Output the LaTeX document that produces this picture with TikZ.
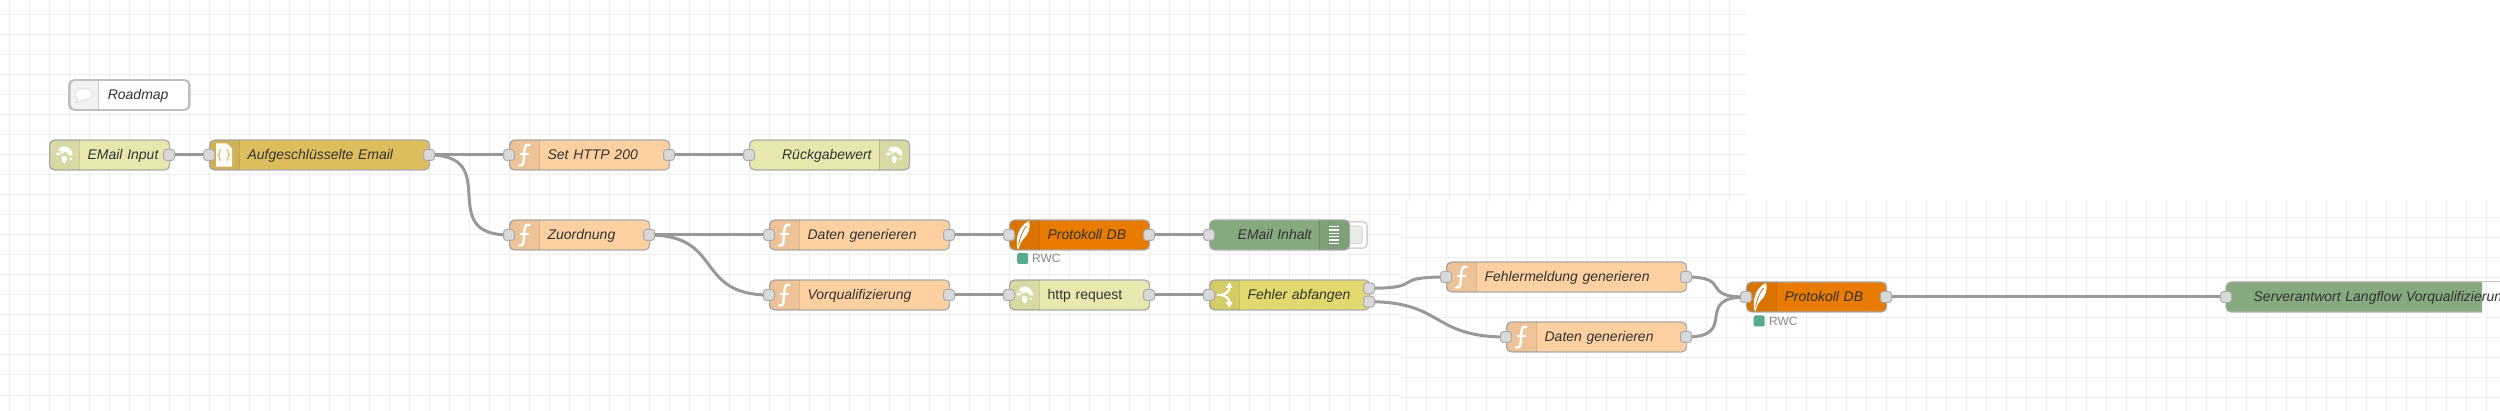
\documentclass[tikz,border=0pt]{standalone}
\usepackage{fontspec}
\setmainfont{Liberation Sans}
\usetikzlibrary{calc}
\definecolor{gridc}{HTML}{EEEEEE}
\definecolor{wirec}{HTML}{999999}
\definecolor{edgec}{HTML}{ABABAB}
\definecolor{portc}{HTML}{D9D9D9}
\definecolor{textc}{HTML}{333333}
\definecolor{fnc}{HTML}{FDD0A2}
\definecolor{httpc}{HTML}{E7E7AE}
\definecolor{tplc}{HTML}{DEBD5C}
\definecolor{dbc}{HTML}{E97B00}
\definecolor{dbgc}{HTML}{87A980}
\definecolor{swc}{HTML}{E2D96E}
\definecolor{statc}{HTML}{55AB8B}
\definecolor{rwcc}{HTML}{888888}
\pgfdeclarelayer{gridlayer}
\pgfdeclarelayer{wires}
\pgfsetlayers{gridlayer,wires,main}
\tikzset{
  nrbox/.style={rectangle,rounded corners=5pt,draw=edgec,line width=1.2pt,anchor=west,
    minimum height=30pt,inner xsep=0pt,inner ysep=0pt,text=textc,
    font=\fontsize{14}{16}\selectfont\itshape,text height=10pt,text depth=0pt},
  nrport/.style={rectangle,rounded corners=3pt,draw=edgec,fill=portc,line width=1pt,
    minimum size=11pt,inner sep=0pt},
  wire/.style={draw=wirec,line width=3pt},
  gridline/.style={draw=gridc,line width=1pt},
  iconw/.style={draw=white,line width=2.4pt,line cap=round},
  stattext/.style={text=rwcc,font=\fontsize{12}{14}\selectfont,anchor=west,inner sep=0pt},
  statbox/.style={rectangle,rounded corners=2pt,fill=statc,minimum size=11pt,inner sep=0pt,anchor=west},
}
% tinted icon band, clipped to the rounded box
\newcommand{\iconband}[5]{% x0 yc width bandx0 bandw
  \begin{scope}
    \clip[rounded corners=5pt] (#1,#2-15) rectangle (#1+#3,#2+15);
    \fill[black,opacity=.06] (#4,#2-15) rectangle (#4+#5,#2+15);
    \draw[black,opacity=.13,line width=1pt] (#4,#2-15) -- (#4,#2+15) (#4+#5,#2-15) -- (#4+#5,#2+15);
  \end{scope}}
\newcommand{\leftnode}[6]{% name x yc w colour text
  \node[nrbox,fill=#5,minimum width=#4pt,text width=#4pt,align=left] (#1) at (#2,#3) {\hspace*{38pt}#6};
  \iconband{#2}{#3}{#4}{#2-8}{38}}
\newcommand{\rightnode}[6]{%
  \node[nrbox,fill=#5,minimum width=#4pt,text width=#4pt,align=right] (#1) at (#2,#3) {#6\hspace*{38pt}};
  \iconband{#2}{#3}{#4}{#2+#4-30}{38}}
\newcommand{\portnode}[3]{\node[nrport] (#1) at (#2,#3) {};}
\newcommand{\wirelink}[2]{%
  \begin{pgfonlayer}{wires}
  \draw[wire] let \p1=(#1.center),\p2=(#2.center),
    \n1={min(75,.75*veclen(\x2-\x1,\y2-\y1))} in
    (#1.center) .. controls +(\n1,0) and +(-\n1,0) .. (#2.center);
  \end{pgfonlayer}}
\newcommand{\icfn}[2]{\begin{scope}[shift={(#1,#2)}]
  \draw[iconw] (5.5,-10) .. controls (1.5,-11.5) and (0.6,-8) .. (0.2,-3) -- (-0.3,5)
     .. controls (-0.6,10.5) and (-3,11.5) .. (-5,10.5);
  \draw[white,line width=1.6pt] (-4,-1) -- (5,-1);
\end{scope}}
\newcommand{\icglobe}[2]{\begin{scope}[shift={(#1,#2)}]
  \begin{scope}
  \clip (0,0) circle (8.5);
  \fill[white] (-3,-9) -- (7,-9) -- (10,-3) -- (9,0.5) -- (5.5,0.5) -- (3.5,-2) -- (0.5,-3.5) -- (-0.5,-1.5) -- (-3,-2) -- (-3.5,-4.5) -- (-6,-4) -- cycle;
  \fill[white] (-8.5,-2) -- (-4.5,-2.5) -- (-3,0) -- (-7,0.5) -- cycle;
  \fill[white] (-2.5,1.5) -- (2,1.5) -- (3,4.5) -- (0.5,9) -- (-2,6.5) -- cycle;
  \fill[white] (5.5,3) -- (9,2.5) -- (6.5,6.5) -- cycle;
  \fill[white] (-9.5,3) -- (-7.2,3) -- (-8,5.5) -- cycle;
  \end{scope}
\end{scope}}
\newcommand{\icfeather}[2]{\begin{scope}[shift={(#1,#2)}]
  \fill[white] (-6.6,13.6) .. controls (-8.8,4) and (-6,-9) .. (5,-14)
     .. controls (7,-6) and (4,0) .. (-1.5,5) .. controls (-3.5,7.5) and (-4.6,10) .. (-5.2,13.8) -- cycle;
  \draw[dbc!85!black,line width=.7pt] (-5.4,10) .. controls (-4,2) and (-1,-5) .. (2.5,-9);
\end{scope}}
\newcommand{\icswitch}[2]{\begin{scope}[shift={(#1,#2)}]
  \draw[white,line width=2.2pt] (-7.5,0) -- (-2,0);
  \draw[white,line width=2.2pt] (-2.5,0) .. controls (1,-1) and (5.5,-3) .. (5.5,-8);
  \draw[white,line width=2.2pt] (-2.5,0) .. controls (1,1) and (5.5,3) .. (5.5,8);
  \fill[white] (5.5,-12.5) -- (1.5,-7) -- (8.5,-7) -- cycle;
  \fill[white] (5.5,12.5) -- (1.5,7) -- (8.5,7) -- cycle;
\end{scope}}
\begin{document}
\begin{tikzpicture}[x=1pt,y=-1pt]
\useasboundingbox (0,0) rectangle (2500,411);
% canvas grids
\begin{pgfonlayer}{gridlayer}
\begin{scope}
  \clip (0,0) -- (1747,0) -- (1747,201) -- (1400,201) -- (1400,411) -- (0,411) -- cycle;
  \foreach \gx in {0,...,87} \draw[gridline] ({9.5+20*\gx},0) -- ({9.5+20*\gx},411);
  \foreach \gy in {0,...,19} \draw[gridline] (0,{15+20*\gy}) -- (1747,{15+20*\gy});
\end{scope}
\begin{scope}
  \clip (1400,201) rectangle (2500,411);
  \foreach \gx in {0,...,54} \draw[gridline] ({1406.3+20*\gx},201) -- ({1406.3+20*\gx},411);
  \foreach \gy in {0,...,9} \draw[gridline] (1400,{217.3+20*\gy}) -- (2500,{217.3+20*\gy});
\end{scope}
\end{pgfonlayer}

% comment
\node[nrbox,draw=black!25,line width=1.6pt,fill=white,minimum width=120pt,text width=120pt,align=left] (roadmap) at (69,95) {\hspace*{38pt}Roadmap};
\begin{scope}
  \clip[rounded corners=5pt] (69,80) rectangle (189,110);
  \fill[black,opacity=.05] (69,80) rectangle (98.5,110);
  \draw[black!20,line width=1pt] (98.5,80) -- (98.5,110);
\end{scope}
\draw[black!25,line width=1.6pt,rounded corners=5pt] (69,80) rectangle (189,110);
\draw[black!12,fill=white,line width=.9pt] (84,88.5) .. controls (90,88.5) and (92.5,91) .. (92.5,94)
   .. controls (92.5,98) and (88,100) .. (83,100) .. controls (81,101.5) and (78.5,102.5) .. (76,102.5)
   .. controls (77.5,101.5) and (78,100) .. (78,99) .. controls (76,98) and (75,96) .. (75,94)
   .. controls (75,91) and (78,88.5) .. (84,88.5) -- cycle;

% row 1
\leftnode{input}{49}{155}{120}{httpc}{EMail Input}
\icglobe{64}{155}
\leftnode{json}{209}{155}{220}{tplc}{Aufgeschlüsselte Email}
\fill[white,rounded corners=.5pt] (216,143.3) -- (227,143.3) -- (232,148.3) -- (232,166.7) -- (216,166.7) -- cycle;
\draw[tplc,line width=1.1pt] (221,149.5) .. controls (218.5,149.5) and (220.5,155) .. (218,155) .. controls (220.5,155) and (218.5,160.5) .. (221,160.5);
\draw[tplc,line width=1.1pt] (226.5,149.5) .. controls (229,149.5) and (227,155) .. (229.5,155) .. controls (227,155) and (229,160.5) .. (226.5,160.5);
\leftnode{sethttp}{509}{155}{160}{fnc}{Set HTTP 200}
\icfn{524}{155}
\rightnode{response}{749}{155}{160}{httpc}{Rückgabewert}
\icglobe{894}{155}

% row 2
\leftnode{zuordnung}{509}{235}{140}{fnc}{Zuordnung}
\icfn{524}{235}
\leftnode{daten}{769}{235}{180}{fnc}{Daten generieren}
\icfn{784}{235}
\leftnode{protoa}{1009}{235}{140}{dbc}{Protokoll DB}
\icfeather{1024}{235}
\node[statbox] (stata) at (1017,258.5) {};
\node[stattext] (rwca) at (1032,258.5) {RWC};
% debug with its button
\draw[black!18,fill=white,line width=1.5pt,rounded corners=4pt] (1340,221.8) rectangle (1367,248.2);
\draw[black!18,fill=dbgc!22!white,line width=.8pt,rounded corners=3pt] (1340,226) rectangle (1362.3,243.8);
\rightnode{inhalt}{1209}{235}{140}{dbgc}{EMail Inhalt}
\foreach \ly in {226.5,229.9,233.3,236.7,240.1,243.5} \draw[white,line width=1.5pt] (1329,\ly) -- (1339,\ly);

% row 3
\leftnode{vorq}{769}{295}{180}{fnc}{Vorqualifizierung}
\icfn{784}{295}
\node[nrbox,fill=httpc,minimum width=140pt,text width=140pt,align=left,font=\fontsize{14}{16}\selectfont] (http) at (1009,295) {\hspace*{38pt}http request};
\iconband{1009}{295}{140}{1001}{38}
\icglobe{1024.5}{295}
\leftnode{fehler}{1209}{295}{160}{swc}{Fehler abfangen}
\icswitch{1224}{295}

% right branch
\leftnode{fehlermeld}{1446}{277}{240}{fnc}{Fehlermeldung generieren}
\icfn{1461}{277}
\leftnode{datenb}{1506}{337}{180}{fnc}{Daten generieren}
\icfn{1521}{337}
\leftnode{protob}{1746}{297}{140}{dbc}{Protokoll DB}
\icfeather{1761}{297}
\node[statbox] (statb) at (1753.5,321) {};
\node[stattext] (rwcb) at (1769,321) {RWC};

% server response node, cut off by the canvas tile
\draw[edgec!70!white,line width=.8pt] (2482,281.7) -- (2500,281.7);
\fill[dbgc] (2482,312) -- (2231,312) arc[start angle=90,end angle=180,radius=5] -- (2226,287) arc[start angle=180,end angle=270,radius=5] -- (2482,282) -- cycle;
\draw[edgec,line width=1.2pt] (2482,312) -- (2231,312) arc[start angle=90,end angle=180,radius=5] -- (2226,287) arc[start angle=180,end angle=270,radius=5] -- (2482,282);
\node[nrbox,draw=none,minimum width=274pt,text width=274pt,align=left] (server) at (2226,297) {\hspace*{27pt}\mbox{Serverantwort Langflow Vorqualifizierun}};

% ports
\portnode{input-o}{169}{155}
\portnode{json-i}{209}{155}
\portnode{json-o}{429}{155}
\portnode{sethttp-i}{509}{155}
\portnode{sethttp-o}{669}{155}
\portnode{response-i}{749}{155}
\portnode{zuordnung-i}{509}{235}
\portnode{zuordnung-o}{649}{235}
\portnode{daten-i}{769}{235}
\portnode{daten-o}{949}{235}
\portnode{protoa-i}{1009}{235}
\portnode{protoa-o}{1149}{235}
\portnode{inhalt-i}{1209}{235}
\portnode{vorq-i}{769}{295}
\portnode{vorq-o}{949}{295}
\portnode{http-i}{1009}{295}
\portnode{http-o}{1149}{295}
\portnode{fehler-i}{1209}{295}
\portnode{fehler-o}{1369}{288.3}
\portnode{fehler-p}{1369}{301.7}
\portnode{fehlermeld-i}{1446}{277}
\portnode{fehlermeld-o}{1686}{277}
\portnode{datenb-i}{1506}{337}
\portnode{datenb-o}{1686}{337}
\portnode{protob-i}{1746}{297}
\portnode{protob-o}{1886}{297}
\portnode{server-i}{2226}{297}

% connectors
\wirelink{input-o}{json-i}
\wirelink{json-o}{sethttp-i}
\wirelink{json-o}{zuordnung-i}
\wirelink{sethttp-o}{response-i}
\wirelink{zuordnung-o}{daten-i}
\wirelink{zuordnung-o}{vorq-i}
\wirelink{daten-o}{protoa-i}
\wirelink{protoa-o}{inhalt-i}
\wirelink{vorq-o}{http-i}
\wirelink{http-o}{fehler-i}
\wirelink{fehler-o}{fehlermeld-i}
\wirelink{fehler-p}{datenb-i}
\wirelink{fehlermeld-o}{protob-i}
\wirelink{datenb-o}{protob-i}
\wirelink{protob-o}{server-i}
\end{tikzpicture}
\end{document}
